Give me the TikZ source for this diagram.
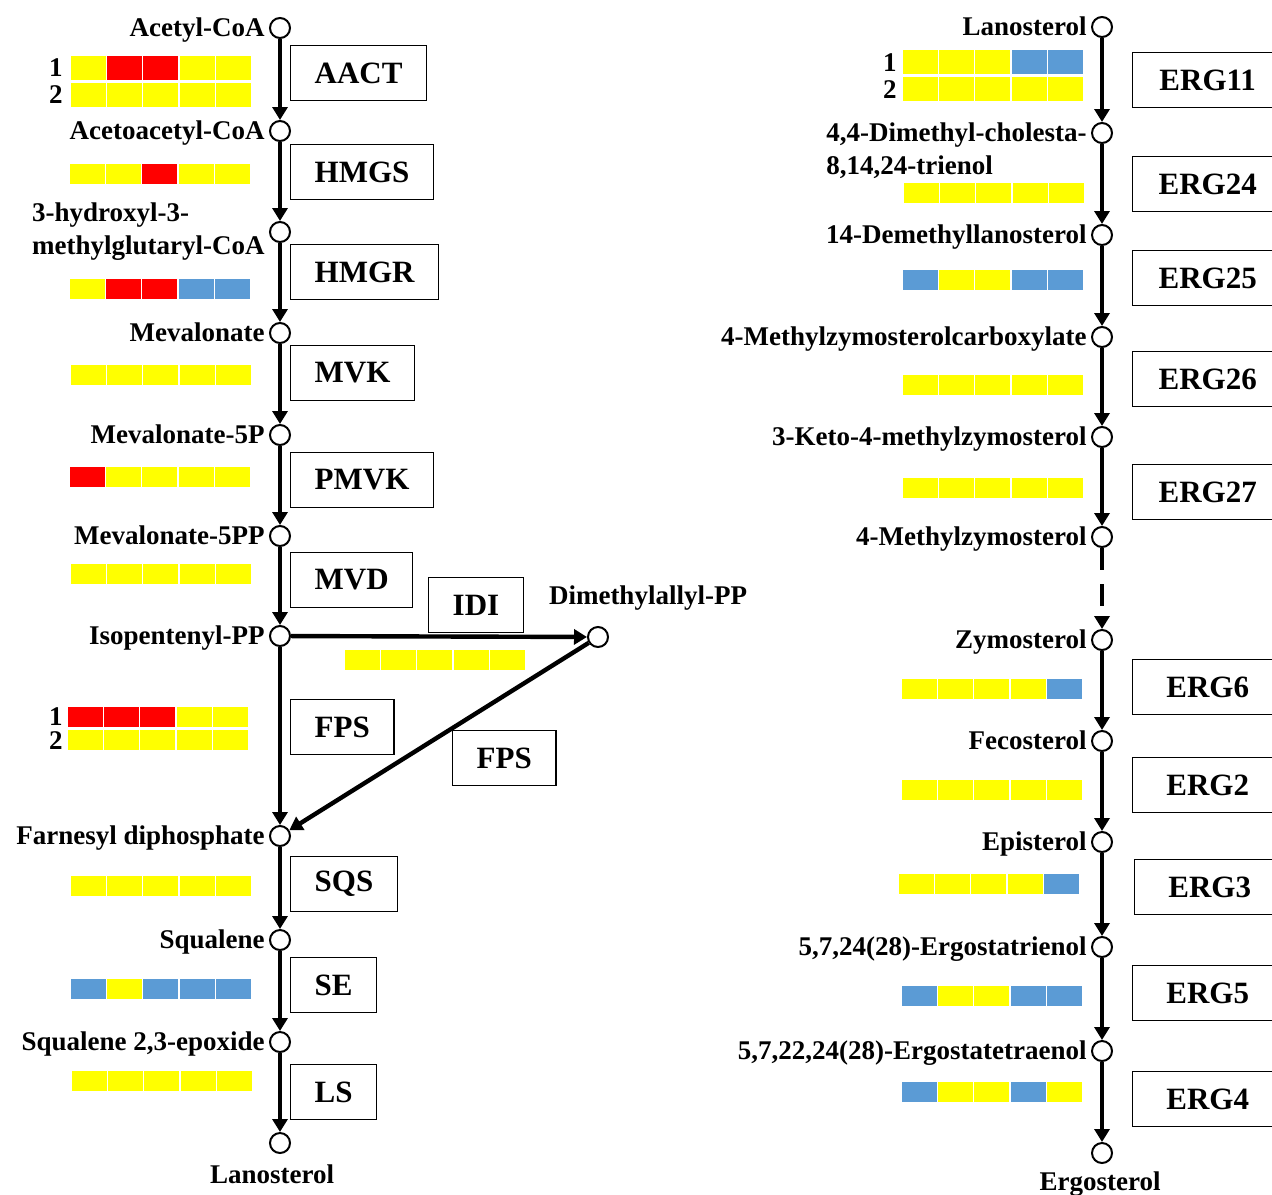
\documentclass[tikz,border=0pt]{standalone}
\usepackage{fontspec}
\setmainfont{Liberation Serif}
\usepackage{xcolor}
\usepackage{tikz}
\usetikzlibrary{arrows.meta,positioning}

\definecolor{hy}{HTML}{FFFF00}
\definecolor{hr}{HTML}{FF0000}
\definecolor{hb}{HTML}{5B9BD5}

% one row of five coloured cells: left x, top y, height, colours
\newcommand{\genebar}[4]{%
  \foreach \col [count=\i from 0] in {#4}
    \fill[\col] (#1+\i*36.2,#2) rectangle ++(35,#3);}

\begin{document}
\begin{tikzpicture}[
  x=0.5pt, y=-0.5pt,
  met/.style={circle, draw, line width=1pt, fill=white, minimum size=10pt, inner sep=0pt},
  metlabel/.style={font=\fontsize{13.5}{16}\selectfont\bfseries, inner sep=2pt, text height=0.7em, text depth=0.2em, yshift=-1.5pt},
  metlabel2/.style={font=\fontsize{13.5}{16.5}\selectfont\bfseries, inner sep=2pt, align=left},
  enzyme/.style={rectangle, draw, line width=0.7pt, font=\fontsize{15.5}{18}\selectfont\bfseries, inner xsep=12pt, minimum height=27.5pt, anchor=west},
  ergbox/.style={enzyme, minimum width=75pt},
  rowno/.style={font=\fontsize{13.5}{16}\selectfont\bfseries, inner sep=1pt, anchor=east},
  flux/.style={line width=2.2pt, -{Triangle[length=6.5pt,width=7.5pt]}}
]
\useasboundingbox (0,0) rectangle (1272,1194);

% expression bars, mevalonate branch
\genebar{71}{56}{24}{hy,hr,hr,hy,hy}
\genebar{71}{83}{24}{hy,hy,hy,hy,hy}
\genebar{70}{164}{20}{hy,hy,hr,hy,hy}
\genebar{70}{279}{20}{hy,hr,hr,hb,hb}
\genebar{71}{365}{20}{hy,hy,hy,hy,hy}
\genebar{70}{467}{20}{hr,hy,hy,hy,hy}
\genebar{71}{564}{20}{hy,hy,hy,hy,hy}
\genebar{345}{650}{20}{hy,hy,hy,hy,hy}
\genebar{68}{707}{20}{hr,hr,hr,hy,hy}
\genebar{68}{730}{20}{hy,hy,hy,hy,hy}
\genebar{71}{876}{20}{hy,hy,hy,hy,hy}
\genebar{71}{979}{20}{hb,hy,hb,hb,hb}
\genebar{72}{1071}{20}{hy,hy,hy,hy,hy}
\node[rowno] (aact1) at (65,68) {1};
\node[rowno] (aact2) at (65,95) {2};
\node[rowno] (fps1n) at (65,717) {1};
\node[rowno] (fps2n) at (65,741) {2};

% expression bars, ergosterol branch
\genebar{903}{50}{24}{hy,hy,hy,hb,hb}
\genebar{903}{77}{24}{hy,hy,hy,hy,hy}
\genebar{904}{183}{20}{hy,hy,hy,hy,hy}
\genebar{903}{270}{20}{hb,hy,hy,hb,hb}
\genebar{903}{375}{20}{hy,hy,hy,hy,hy}
\genebar{903}{478}{20}{hy,hy,hy,hy,hy}
\genebar{902}{679}{20}{hy,hy,hy,hy,hb}
\genebar{902}{780}{20}{hy,hy,hy,hy,hy}
\genebar{899}{874}{20}{hy,hy,hy,hy,hb}
\genebar{902}{986}{20}{hb,hy,hy,hb,hb}
\genebar{902}{1082}{20}{hb,hy,hy,hb,hy}
\node[rowno] (erg1n) at (899,63) {1};
\node[rowno] (erg2n) at (899,90) {2};

% metabolites, left
\node[met] (acoa) at (280,28) {};
\node[met] (aacoa) at (280,131) {};
\node[met] (hmgcoa) at (280,232) {};
\node[met] (mev) at (280,333) {};
\node[met] (mev5p) at (280,435) {};
\node[met] (mev5pp) at (280,536) {};
\node[met] (ipp) at (280,636) {};
\node[met] (dmapp) at (598,637) {};
\node[met] (fpp) at (280,836) {};
\node[met] (sq) at (280,940) {};
\node[met] (sqe) at (280,1042) {};
\node[met] (lano) at (280,1143) {};

\node[metlabel, left=0pt of acoa] (acoaL) {Acetyl-CoA};
\node[metlabel, left=0pt of aacoa] (aacoaL) {Acetoacetyl-CoA};
\node[metlabel2, left=0pt of hmgcoa] (hmgcoaL) {3-hydroxyl-3-\\methylglutaryl-CoA};
\node[metlabel, left=0pt of mev] (mevL) {Mevalonate};
\node[metlabel, left=0pt of mev5p] (mev5pL) {Mevalonate-5P};
\node[metlabel, left=0pt of mev5pp] (mev5ppL) {Mevalonate-5PP};
\node[metlabel, left=0pt of ipp] (ippL) {Isopentenyl-PP};
\node[metlabel] (dmappL) at (648,596) {Dimethylallyl-PP};
\node[metlabel, left=0pt of fpp] (fppL) {Farnesyl diphosphate};
\node[metlabel, left=0pt of sq] (sqL) {Squalene};
\node[metlabel, left=0pt of sqe] (sqeL) {Squalene 2,3-epoxide};
\node[metlabel, below=4pt of lano, xshift=-4pt] (lanoL) {Lanosterol};

% metabolites, right
\node[met] (lan) at (1102,27) {};
\node[met] (dmc) at (1102,133) {};
\node[met] (dml) at (1102,235) {};
\node[met] (mzc) at (1102,337) {};
\node[met] (kmz) at (1102,437) {};
\node[met] (mz) at (1102,537) {};
\node[met] (zym) at (1102,640) {};
\node[met] (feco) at (1102,741) {};
\node[met] (epi) at (1102,842) {};
\node[met] (etri) at (1102,947) {};
\node[met] (etet) at (1102,1051) {};
\node[met] (ergo) at (1102,1153) {};

\node[metlabel, left=0pt of lan] (lanL) {Lanosterol};
\node[metlabel2, left=0pt of dmc, yshift=-9pt] (dmcL) {4,4-Dimethyl-cholesta-\\8,14,24-trienol};
\node[metlabel, left=0pt of dml] (dmlL) {14-Demethyllanosterol};
\node[metlabel, left=0pt of mzc] (mzcL) {4-Methylzymosterolcarboxylate};
\node[metlabel, left=0pt of kmz] (kmzL) {3-Keto-4-methylzymosterol};
\node[metlabel, left=0pt of mz] (mzL) {4-Methylzymosterol};
\node[metlabel, left=0pt of zym] (zymL) {Zymosterol};
\node[metlabel, left=0pt of feco] (fecoL) {Fecosterol};
\node[metlabel, left=0pt of epi] (epiL) {Episterol};
\node[metlabel, left=0pt of etri] (etriL) {5,7,24(28)-Ergostatrienol};
\node[metlabel, left=0pt of etet] (etetL) {5,7,22,24(28)-Ergostatetraenol};
\node[metlabel, below=2.5pt of ergo, xshift=-1pt] (ergoL) {Ergosterol};

% enzymes
\node[enzyme] (aact) at (290,73) {AACT};
\node[enzyme] (hmgs) at (290,172) {HMGS};
\node[enzyme] (hmgr) at (290,272) {HMGR};
\node[enzyme] (mvk) at (290,373) {MVK};
\node[enzyme] (pmvk) at (290,480) {PMVK};
\node[enzyme] (mvd) at (290,580) {MVD};
\node[enzyme] (idi) at (428,605) {IDI};
\node[enzyme] (fpsA) at (290,727) {FPS};
\node[enzyme] (fpsB) at (452,758) {FPS};
\node[enzyme] (sqs) at (290,884) {SQS};
\node[enzyme] (se) at (290,985) {SE};
\node[enzyme] (ls) at (290,1092) {LS};

\node[ergbox] (erg11) at (1132,80) {ERG11};
\node[ergbox] (erg24) at (1132,184) {ERG24};
\node[ergbox] (erg25) at (1132,278) {ERG25};
\node[ergbox] (erg26) at (1132,379) {ERG26};
\node[ergbox] (erg27) at (1132,492) {ERG27};
\node[ergbox] (erg6) at (1132,687) {ERG6};
\node[ergbox] (erg2) at (1132,785) {ERG2};
\node[ergbox] (erg3) at (1134,887) {ERG3};
\node[ergbox] (erg5) at (1132,993) {ERG5};
\node[ergbox] (erg4) at (1132,1099) {ERG4};

% reactions
\draw[flux] (acoa) -- (aacoa);
\draw[flux] (aacoa) -- (hmgcoa);
\draw[flux] (hmgcoa) -- (mev);
\draw[flux] (mev) -- (mev5p);
\draw[flux] (mev5p) -- (mev5pp);
\draw[flux] (mev5pp) -- (ipp);
\draw[flux] (ipp) -- (dmapp);
\draw[flux] (ipp) -- (fpp);
\draw[flux] (dmapp) -- (fpp);
\draw[flux] (fpp) -- (sq);
\draw[flux] (sq) -- (sqe);
\draw[flux] (sqe) -- (lano);

\draw[flux] (lan) -- (dmc);
\draw[flux] (dmc) -- (dml);
\draw[flux] (dml) -- (mzc);
\draw[flux] (mzc) -- (kmz);
\draw[flux] (kmz) -- (mz);
\draw[flux, dash pattern=on 11pt off 7pt] (mz) -- (zym);
\draw[flux] (zym) -- (feco);
\draw[flux] (feco) -- (epi);
\draw[flux] (epi) -- (etri);
\draw[flux] (etri) -- (etet);
\draw[flux] (etet) -- (ergo);
\end{tikzpicture}
\end{document}
